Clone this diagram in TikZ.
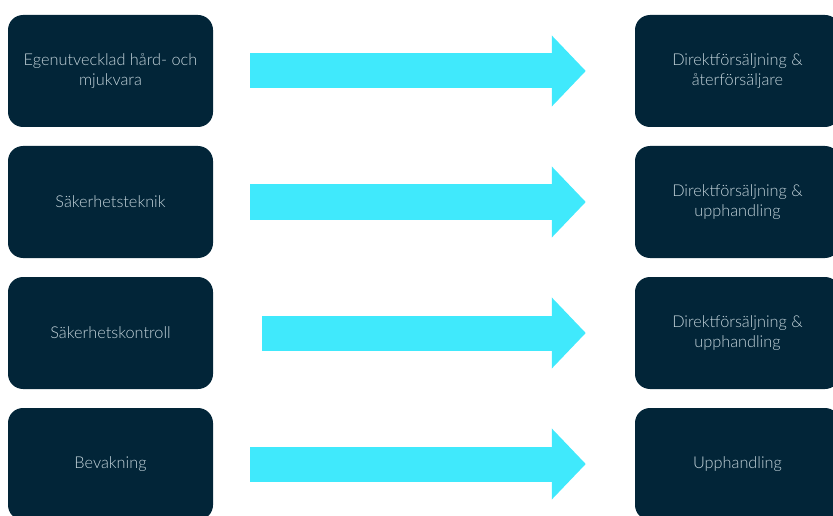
\documentclass[tikz,border=0pt]{standalone}
\usepackage{fontspec}
\setmainfont{Lato}[UprightFont=* Light]
\usetikzlibrary{arrows.meta}

\definecolor{navy}{HTML}{022538}
\definecolor{boxtext}{HTML}{C4D4DB}
\definecolor{flow}{HTML}{40E9FC}

\begin{document}
\begin{tikzpicture}[x=1pt,y=-1pt,
    box/.style={fill=navy,rounded corners=15pt,minimum width=205pt,minimum height=112pt,
        text=boxtext,align=center,font=\fontsize{16.3}{20.5}\selectfont,inner sep=0pt},
    bigarrow/.style={draw=flow,line width=35pt,-{Triangle[length=34pt,width=69pt]},
        shorten <=37pt,shorten >=49pt}]
    \useasboundingbox (0,0) rectangle (833,516);

    % Left column
    \node[box] (l1) at (110.5,71) {Egenutvecklad hård- och\\mjukvara};
    \node[box] (l2) at (110.5,202) {Säkerhetsteknik};
    \node[box] (l3) at (110.5,333) {Säkerhetskontroll};
    \node[box] (l4) at (110.5,464) {Bevakning};

    % Right column
    \node[box] (r1) at (737.5,71) {Direktförsäljning \&\\återförsäljare};
    \node[box] (r2) at (737.5,202) {Direktförsäljning \&\\upphandling};
    \node[box] (r3) at (737.5,333) {Direktförsäljning \&\\upphandling};
    \node[box] (r4) at (737.5,464) {Upphandling};

    % Arrows
    \draw[bigarrow] (l1) -- (r1);
    \draw[bigarrow] (l2) -- (r2);
    \draw[bigarrow,shorten <=49pt] (l3) -- (r3);
    \draw[bigarrow] (l4) -- (r4);

\end{tikzpicture}
\end{document}
